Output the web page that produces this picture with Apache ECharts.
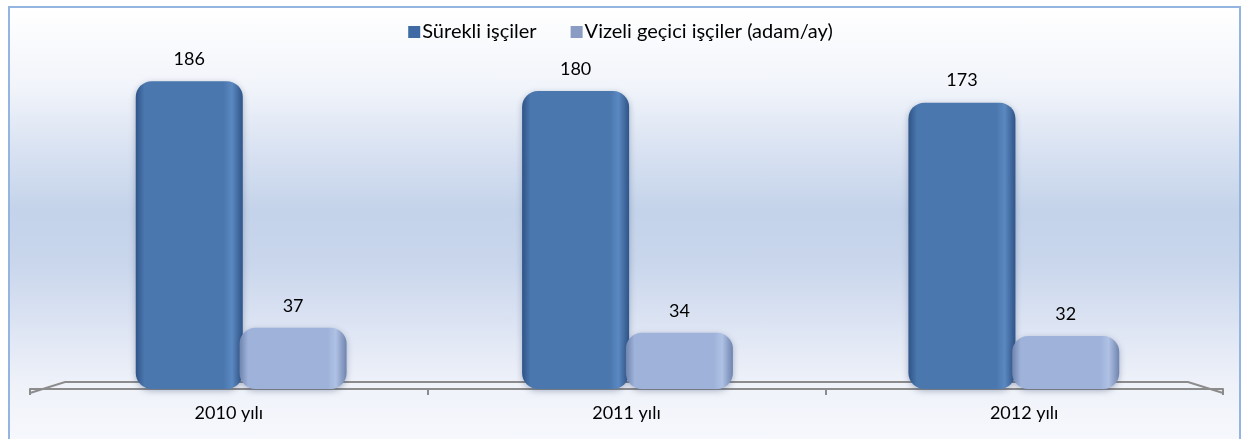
<!DOCTYPE html>
<html>
<head>
<meta charset="utf-8">
<script src="https://cdn.jsdelivr.net/npm/echarts@6/dist/echarts.min.js"></script>
<style>
  body { margin: 0; background: #ffffff; }
  #frame {
    position: absolute; left: 8px; top: 6px; width: 1229px; height: 440px;
    border: 2px solid #93b5e0;
    background: linear-gradient(to bottom, #ffffff 0%, #f1f4fa 18%, #d6e0f1 34%, #c4d3ea 46%, #c9d6ec 58%, #e2e8f5 76%, #eff2f9 86%, #f7f9fd 100%);
  }
  #chart { position: absolute; left: 0; top: 0; width: 1241px; height: 439px; }
</style>
</head>
<body>
<div id="frame"></div>
<div id="chart"></div>
<script>
// kategoriler ve seriler
const years = ["2010 yılı", "2011 yılı", "2012 yılı"];
const surekli = [186, 180, 173];
const vizeli = [37, 34, 32];
const seriesNames = ["Sürekli işçiler", "Vizeli geçici işçiler (adam/ay)"];

const font = "Lato, 'Open Sans', sans-serif";

function barGrad(edge, mid, light) {
  return new echarts.graphic.LinearGradient(0, 0, 1, 0, [
    { offset: 0, color: edge },
    { offset: 0.08, color: mid },
    { offset: 0.82, color: mid },
    { offset: 0.9, color: light },
    { offset: 1, color: edge },
  ]);
}

const labelStyle = {
  show: true,
  position: "top",
  distance: 13,
  fontFamily: font,
  fontSize: 18,
  color: "#000",
};

const chart = echarts.init(document.getElementById("chart"));
chart.setOption({
  backgroundColor: "transparent",
  animation: false,
  legend: {
    top: 17,
    left: "center",
    itemWidth: 12,
    itemHeight: 12,
    itemGap: 34,
    textStyle: { fontFamily: font, fontSize: 20, color: "#000", padding: [0, 0, 0, -3] },
    data: [
      { name: seriesNames[0], icon: "rect", itemStyle: { color: "#3f6aa3" } },
      { name: seriesNames[1], icon: "rect", itemStyle: { color: "#8a9cc4" } },
    ],
  },
  grid: [
    // görünen eksen (zemin)
    { top: 58, left: 30, right: 18, bottom: 50 },
    // çubuklar (perspektif nedeniyle biraz daha dar)
    { top: 58, left: 48, right: 34, bottom: 50 },
  ],
  xAxis: [
    {
      type: "category",
      gridIndex: 0,
      data: years,
      offset: 4,
      axisLine: { lineStyle: { color: "#8c8c8c", width: 2 } },
      axisTick: { show: true, length: 6, lineStyle: { color: "#8c8c8c", width: 2 } },
      axisLabel: { fontFamily: font, fontSize: 18, color: "#000", margin: 11 },
    },
    {
      type: "category",
      gridIndex: 1,
      data: years,
      show: false,
    },
  ],
  yAxis: [
    { type: "value", gridIndex: 0, min: 0, max: 200, show: false, splitLine: { show: false } },
    { type: "value", gridIndex: 1, min: 0, max: 200, show: false, splitLine: { show: false } },
  ],
  series: [
    {
      name: seriesNames[0],
      type: "bar",
      xAxisIndex: 1,
      yAxisIndex: 1,
      data: surekli,
      barWidth: "27.7%",
      barGap: "-3%",
      itemStyle: {
        color: barGrad("#2f5488", "#4a77ae", "#5a88c0"),
        borderRadius: 16,
        shadowColor: "rgba(40,60,100,0.35)",
        shadowBlur: 6,
        shadowOffsetY: 2,
      },
      label: labelStyle,
    },
    {
      name: seriesNames[1],
      type: "bar",
      xAxisIndex: 1,
      yAxisIndex: 1,
      data: vizeli,
      barWidth: "27.7%",
      itemStyle: {
        color: barGrad("#6f84ae", "#9eb2da", "#afc1e4"),
        borderRadius: 16,
        shadowColor: "rgba(40,60,100,0.35)",
        shadowBlur: 6,
        shadowOffsetY: 2,
      },
      label: labelStyle,
    },
  ],
  graphic: [
    {
      // zemin (3B taban çizgisi)
      type: "polyline",
      z: 0,
      shape: { points: [[30, 393], [65, 382], [1188, 382], [1223, 393]] },
      style: { stroke: "#8c8c8c", lineWidth: 2, fill: "rgba(240,243,250,0.6)" },
    },
  ],
});
</script>
</body>
</html>
